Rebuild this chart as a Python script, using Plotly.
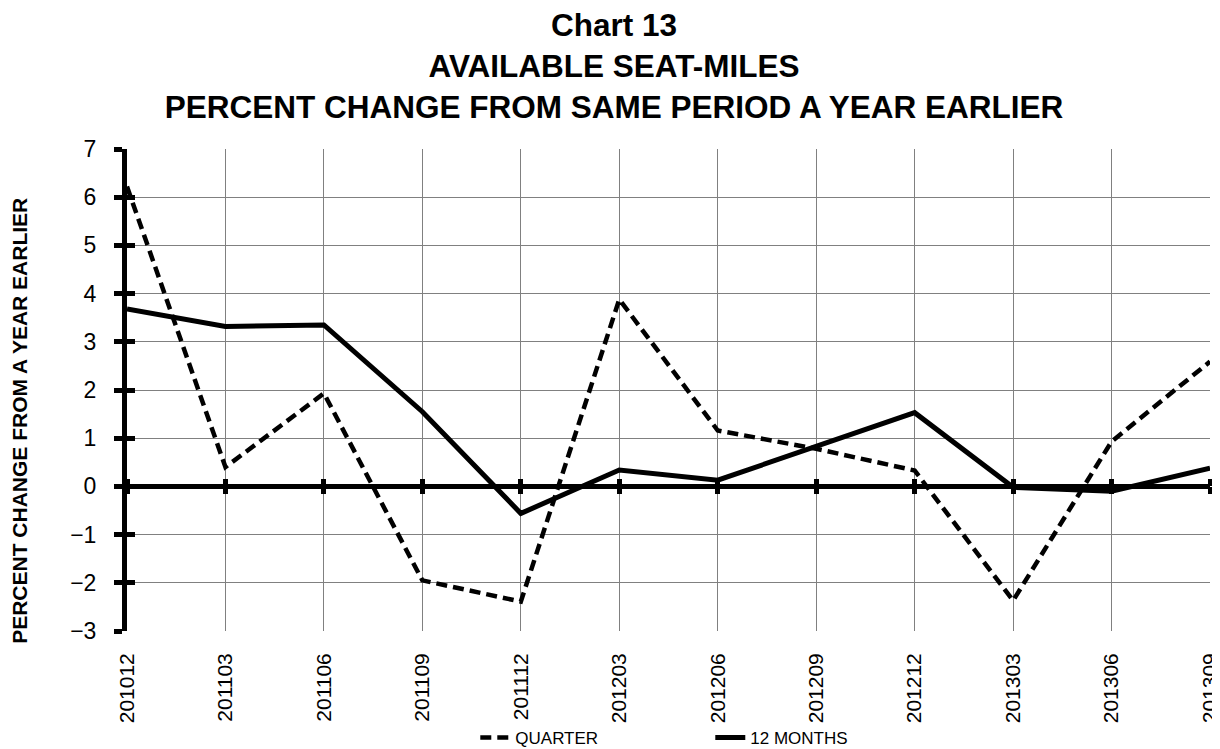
import plotly.graph_objects as go

periods = ["201012", "201103", "201106", "201109", "201112", "201203",
           "201206", "201209", "201212", "201303", "201306", "201309"]
quarter = [6.22, 0.40, 1.93, -1.95, -2.39, 3.88, 1.16, 0.78, 0.33, -2.37, 0.93, 2.59]
twelve_months = [3.68, 3.32, 3.35, 1.55, -0.56, 0.34, 0.13, 0.82, 1.53, -0.02, -0.10, 0.38]
y_ticks = [-3, -2, -1, 0, 1, 2, 3, 4, 5, 6, 7]

title_text = "Chart 13<br>AVAILABLE SEAT-MILES<br>PERCENT CHANGE FROM SAME PERIOD A YEAR EARLIER"
y_title = "PERCENT CHANGE FROM A YEAR EARLIER"

FONT = "Liberation Sans, Arial, sans-serif"
GRID = "#808080"

fig = go.Figure()
fig.add_trace(go.Scatter(x=periods, y=quarter, name="QUARTER", mode="lines",
                         line=dict(color="black", width=4.5, dash="11px,6px")))
fig.add_trace(go.Scatter(x=periods, y=twelve_months, name="12 MONTHS", mode="lines",
                         line=dict(color="black", width=5)))
# invisible helper traces so the decorative tick axes render
for xa, ya in (("x2", "y"), ("x3", "y"), ("x", "y2")):
    fig.add_trace(go.Scatter(x=periods, y=twelve_months, mode="lines", xaxis=xa, yaxis=ya,
                             line=dict(width=0, color="rgba(0,0,0,0)"), opacity=0,
                             showlegend=False, hoverinfo="skip"))

xcommon = dict(type="category", range=[0, len(periods) - 1], categoryorder="array",
               categoryarray=periods)

# the page body adds an 8px margin, so the figure is 8px smaller than the window
fig.update_layout(
    width=1212, height=741,
    margin=dict(l=119, r=10, t=141, b=118, autoexpand=False),
    paper_bgcolor="white", plot_bgcolor="white",
    font=dict(family=FONT, color="black"),
    title=dict(text=title_text, x=0.5, xref="container", xanchor="center",
               y=0.9619, yref="container", yanchor="top",
               font=dict(family=FONT, size=31.5, color="black", weight="bold")),
    xaxis=dict(**xcommon, showgrid=True, gridcolor=GRID, gridwidth=1,
               showline=False, ticks="", tickangle=-90, automargin=False,
               tickfont=dict(size=21, family=FONT), ticklabelstandoff=17,
               zeroline=False),
    xaxis2=dict(**xcommon, overlaying="x", anchor="free", position=0.3, side="bottom",
                showgrid=False, showline=False, ticks="outside", ticklen=7, tickwidth=5,
                tickcolor="black", tickvals=periods, showticklabels=False),
    xaxis3=dict(**xcommon, overlaying="x", anchor="free", position=0.3, side="top",
                showgrid=False, showline=False, ticks="outside", ticklen=7, tickwidth=5,
                tickcolor="black", tickvals=periods, showticklabels=False),
    yaxis=dict(range=[-3, 7], tickvals=y_ticks, automargin=False,
               showgrid=True, gridcolor=GRID, gridwidth=1,
               showline=True, linewidth=5, linecolor="black",
               ticks="outside", ticklen=8, tickwidth=5, tickcolor="black",
               tickfont=dict(size=23, family=FONT), ticklabelstandoff=13,
               zeroline=True, zerolinecolor="black", zerolinewidth=5),
    yaxis2=dict(range=[-3, 7], tickvals=y_ticks, overlaying="y", anchor="x", side="left",
                showgrid=False, showline=False, zeroline=False,
                ticks="inside", ticklen=8, tickwidth=5, tickcolor="black",
                showticklabels=False),
    showlegend=True,
    legend=dict(orientation="h", x=0.3216, xanchor="left", y=-0.222, yanchor="middle",
                xref="paper", yref="paper", font=dict(size=17, family=FONT),
                entrywidth=190, bgcolor="rgba(0,0,0,0)"),
    annotations=[dict(text=y_title, textangle=-90, xref="paper", yref="paper",
                      x=-0.0993, y=0.437, xanchor="center", yanchor="middle",
                      showarrow=False,
                      font=dict(family=FONT, size=21, color="black", weight="bold"))],
)

fig.write_html("out.html")
